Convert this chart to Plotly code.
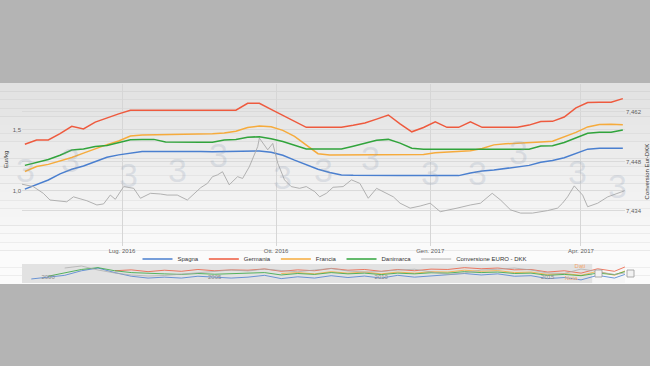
import plotly.graph_objects as go
import pandas as pd

W, H = 650, 366

# ---------------- data ----------------
week_dates = pd.date_range("2016-05-04", periods=52, freq="7D")

spagna = [1.015, 1.055, 1.09, 1.14, 1.178, 1.205, 1.24, 1.276, 1.296, 1.31,
          1.324, 1.324, 1.325, 1.325, 1.324, 1.323, 1.322, 1.322, 1.322, 1.327,
          1.328, 1.318, 1.293, 1.253, 1.213, 1.178, 1.152, 1.131, 1.128, 1.126,
          1.126, 1.126, 1.126, 1.126, 1.126, 1.126, 1.126, 1.126, 1.147, 1.163,
          1.172, 1.183, 1.194, 1.21, 1.236, 1.25, 1.272, 1.306, 1.343, 1.35,
          1.35, 1.35]
germania = [1.383, 1.418, 1.418, 1.470, 1.530, 1.508, 1.565, 1.600, 1.632, 1.662,
            1.662, 1.662, 1.662, 1.662, 1.662, 1.662, 1.662, 1.662, 1.662, 1.719,
            1.719, 1.669, 1.620, 1.570, 1.522, 1.522, 1.522, 1.522, 1.538, 1.557,
            1.589, 1.623, 1.550, 1.485, 1.520, 1.566, 1.522, 1.522, 1.566, 1.522,
            1.522, 1.522, 1.522, 1.540, 1.570, 1.571, 1.606, 1.681, 1.725, 1.727,
            1.727, 1.757]
francia = [1.16, 1.20, 1.218, 1.245, 1.275, 1.31, 1.348, 1.38, 1.41, 1.45,
           1.459, 1.46, 1.461, 1.462, 1.463, 1.465, 1.47, 1.476, 1.49, 1.52,
           1.532, 1.526, 1.497, 1.448, 1.376, 1.306, 1.295, 1.295, 1.295, 1.295,
           1.295, 1.295, 1.295, 1.295, 1.299, 1.313, 1.318, 1.324, 1.33, 1.348,
           1.378, 1.387, 1.394, 1.398, 1.402, 1.408, 1.442, 1.48, 1.525, 1.544,
           1.547, 1.542]
danimarca = [1.21, 1.235, 1.258, 1.293, 1.336, 1.344, 1.365, 1.373, 1.394, 1.42,
             1.423, 1.423, 1.402, 1.399, 1.399, 1.399, 1.399, 1.418, 1.423, 1.44,
             1.445, 1.429, 1.405, 1.375, 1.345, 1.344, 1.344, 1.344, 1.367, 1.393,
             1.416, 1.423, 1.392, 1.35, 1.342, 1.342, 1.342, 1.342, 1.342, 1.342,
             1.342, 1.342, 1.342, 1.342, 1.368, 1.371, 1.398, 1.435, 1.473, 1.481,
             1.481, 1.50]

dkk_dates = ["2016-05-02", "2016-05-09", "2016-05-15", "2016-05-19", "2016-05-25",
             "2016-05-29", "2016-06-02", "2016-06-06", "2016-06-10", "2016-06-16",
             "2016-06-20", "2016-06-24", "2016-06-27", "2016-07-02", "2016-07-08",
             "2016-07-12", "2016-07-18", "2016-07-24", "2016-07-28", "2016-08-03",
             "2016-08-09", "2016-08-17", "2016-08-21", "2016-08-24", "2016-08-27",
             "2016-08-30", "2016-09-03", "2016-09-08", "2016-09-11", "2016-09-15",
             "2016-09-20", "2016-09-21", "2016-09-26", "2016-09-29", "2016-10-02",
             "2016-10-06", "2016-10-10", "2016-10-15", "2016-10-19", "2016-10-24",
             "2016-10-27", "2016-10-31", "2016-11-04", "2016-11-10", "2016-11-15",
             "2016-11-20", "2016-11-25", "2016-11-30", "2016-12-06", "2016-12-10",
             "2016-12-14", "2016-12-20", "2016-12-26", "2017-01-01", "2017-01-07",
             "2017-01-13", "2017-01-17", "2017-01-25", "2017-01-31", "2017-02-07",
             "2017-02-12", "2017-02-18", "2017-02-24", "2017-03-03", "2017-03-12",
             "2017-03-18", "2017-03-21", "2017-03-24", "2017-03-28", "2017-03-31",
             "2017-04-02", "2017-04-05", "2017-04-11", "2017-04-17", "2017-04-23",
             "2017-04-27"]
dkk_values = [7.4416, 7.4409, 7.4390, 7.4371, 7.4368, 7.4366, 7.4380, 7.4374, 7.4369, 7.4357,
              7.4360, 7.4385, 7.4373, 7.4409, 7.4404, 7.4376, 7.4390, 7.4388, 7.4385, 7.4385,
              7.4371, 7.4406, 7.4418, 7.4437, 7.4442, 7.4451, 7.4414, 7.4437, 7.4432, 7.4465,
              7.4522, 7.4546, 7.4513, 7.4531, 7.4475, 7.4428, 7.4409, 7.4404, 7.4409, 7.4395,
              7.4380, 7.4390, 7.4407, 7.4409, 7.4428, 7.4418, 7.4376, 7.4404, 7.4390, 7.4380,
              7.4362, 7.4348, 7.4354, 7.4362, 7.4338, 7.4343, 7.4348, 7.4357, 7.4362, 7.4390,
              7.4371, 7.4343, 7.4334, 7.4334, 7.4341, 7.4348, 7.4362, 7.4380, 7.4411, 7.4395,
              7.4385, 7.4352, 7.4362, 7.4380, 7.4390, 7.4397]

# navigator (long history, rough reading of the miniature)
nav_dates = ["1999-07-01", "2000-01-01", "2000-07-01", "2001-01-01", "2001-07-01",
             "2002-01-01", "2002-07-01", "2003-01-01", "2003-07-01", "2004-01-01",
             "2004-07-01", "2005-01-01", "2005-07-01", "2006-01-01", "2006-07-01",
             "2007-01-01", "2007-07-01", "2008-01-01", "2008-07-01", "2009-01-01",
             "2009-07-01", "2010-01-01", "2010-07-01", "2011-01-01", "2011-07-01",
             "2012-01-01", "2012-07-01", "2013-01-01", "2013-07-01", "2014-01-01",
             "2014-07-01", "2015-01-01", "2015-07-01", "2016-01-01", "2016-07-01",
             "2017-01-01", "2017-04-26"]
nav_spagna = [1.10, 1.20, 1.30, 1.55, 1.70, 1.45, 1.25, 1.15, 1.20, 1.15,
              1.25, 1.20, 1.15, 1.20, 1.30, 1.12, 1.22, 1.15, 1.28, 1.18,
              1.26, 1.15, 1.30, 1.20, 1.26, 1.30, 1.40, 1.32, 1.38, 1.25,
              1.28, 1.12, 1.18, 1.05, 1.30, 1.15, 1.35]
nav_germania = [None, None, None, None, None, 1.55, 1.60, 1.50, 1.58, 1.52,
                1.62, 1.55, 1.60, 1.58, 1.65, 1.52, 1.60, 1.55, 1.68, 1.58,
                1.62, 1.52, 1.62, 1.55, 1.64, 1.62, 1.72, 1.66, 1.70, 1.60,
                1.62, 1.48, 1.55, 1.42, 1.66, 1.52, 1.757]
nav_francia = [None, None, None, None, None, None, None, None, None, None,
               None, None, None, None, None, 1.40, 1.45, 1.38, 1.50, 1.42,
               1.48, 1.38, 1.48, 1.42, 1.50, 1.48, 1.58, 1.52, 1.56, 1.45,
               1.48, 1.35, 1.40, 1.30, 1.52, 1.30, 1.542]
nav_danimarca = [None, 1.25, 1.45, 1.62, 1.72, 1.55, 1.45, 1.40, 1.38, 1.35,
                 1.40, 1.36, 1.38, 1.40, 1.45, 1.32, 1.40, 1.35, 1.45, 1.38,
                 1.42, 1.34, 1.42, 1.38, 1.44, 1.42, 1.50, 1.45, 1.48, 1.40,
                 1.42, 1.30, 1.35, 1.28, 1.42, 1.34, 1.50]
nav_dkk = [None, None, 7.460, 7.468, 7.452, 7.440, 7.432, 7.428, 7.430, 7.436,
           7.440, 7.445, 7.452, 7.448, 7.456, 7.450, 7.445, 7.452, 7.458, 7.448,
           7.444, 7.446, 7.452, 7.455, 7.445, 7.434, 7.440, 7.452, 7.455, 7.460,
           7.452, 7.440, 7.438, 7.456, 7.446, 7.434, 7.440]

# navigator flags (small orange notes)
flag_dates = ["2015-12-20", "2015-09-15"]
flag_levels = [1.81, 1.10]
flag_texts = ["Dati", "Nota"]

series_names = ["Spagna", "Germania", "Francia", "Danimarca"]
series_colors = ["#4a7fcf", "#ee5a3e", "#f6ab3c", "#31a43c"]
dkk_name = "Conversione EURO - DKK"
dkk_color = "#a9a9a9"

x_tick_vals = ["2016-07-01", "2016-10-01", "2017-01-01", "2017-04-01"]
x_tick_text = ["Lug. 2016", "Ott. 2016", "Gen. 2017", "Apr. 2017"]
left_ticks = [1.0, 1.5]
right_ticks = [7.434, 7.448, 7.462]
nav_tick_vals = ["2000-01-01", "2005-01-01", "2010-01-01", "2015-01-01"]
nav_tick_text = ["2000", "2005", "2010", "2015"]

# ---------------- helpers for layout positions (pixels -> paper) ----------------
def fx(px):
    return px / W


def fy(py):
    return 1 - py / H


fig = go.Figure()

main_values = [spagna, germania, francia, danimarca]
for name, vals, col in zip(series_names, main_values, series_colors):
    fig.add_trace(go.Scatter(x=week_dates, y=vals, name=name, mode="lines",
                             line=dict(color=col, width=1.5), xaxis="x", yaxis="y"))
fig.add_trace(go.Scatter(x=dkk_dates, y=dkk_values, name=dkk_name, mode="lines",
                         line=dict(color=dkk_color, width=0.9), xaxis="x", yaxis="y2"))

# navigator traces
nav_values = [nav_spagna, nav_germania, nav_francia, nav_danimarca]
for vals, col in zip(nav_values, series_colors):
    fig.add_trace(go.Scatter(x=nav_dates, y=vals, mode="lines", showlegend=False,
                             hoverinfo="skip", line=dict(color=col, width=0.8),
                             xaxis="x2", yaxis="y3"))
fig.add_trace(go.Scatter(x=nav_dates, y=nav_dkk, mode="lines", showlegend=False,
                         hoverinfo="skip", line=dict(color=dkk_color, width=0.7),
                         xaxis="x2", yaxis="y4"))
fig.add_trace(go.Scatter(x=flag_dates, y=flag_levels, text=flag_texts, mode="text",
                         showlegend=False, hoverinfo="skip",
                         textfont=dict(size=6, color="#f2a66a"), xaxis="x2", yaxis="y3",
                         cliponaxis=False))

shapes = []
# chart background with soft vertical gradient
top_px, bot_px = 83, 284
n = 24
for i in range(n):
    y0 = top_px + (bot_px - top_px) * i / n
    y1 = top_px + (bot_px - top_px) * (i + 1) / n
    g = int(226 + (251 - 226) * min(1.0, i / (n * 0.8)))
    shapes.append(dict(type="rect", xref="paper", yref="paper", x0=0, x1=1,
                       y0=fy(y1), y1=fy(y0), fillcolor=f"rgb({g},{g},{g})",
                       line=dict(width=0), layer="below"))
# navigator band (masked) and selected window
shapes.append(dict(type="rect", xref="x2 domain", yref="y3 domain", x0=0, x1=1, y0=0, y1=1,
                   fillcolor="#e2e2e2", line=dict(width=0), layer="below"))
shapes.append(dict(type="rect", xref="x2", yref="y3 domain",
                   x0="2016-05-02", x1="2017-04-27", y0=0, y1=1,
                   fillcolor="#f6f6f6", line=dict(width=0), layer="below"))
# navigator handles
for cx in (598.5, 630.5):
    shapes.append(dict(type="rect", xref="paper", yref="paper",
                       x0=fx(cx - 3.5), x1=fx(cx + 3.5), y0=fy(277), y1=fy(270),
                       fillcolor="#f2f2f2", line=dict(color="#999999", width=0.8),
                       layer="above"))

annotations = []
# watermark logos
for (px, py) in [(25, 170), (70, 160), (128, 175), (177, 170), (218, 155), (282, 177),
                 (323, 170), (370, 158), (430, 173), (477, 173), (518, 152), (577, 172),
                 (617, 186)]:
    annotations.append(dict(text="3", x=fx(px), y=fy(py), xref="paper", yref="paper",
                            showarrow=False, xanchor="center", yanchor="middle",
                            font=dict(size=34, color="rgba(140,155,178,0.22)",
                                      family="Liberation Sans, Arial, sans-serif")))
annotations.append(dict(text="Eur/kg", x=fx(6), y=fy(160), xref="paper", yref="paper",
                        showarrow=False, textangle=-90, xanchor="center", yanchor="middle",
                        font=dict(size=6, color="#333333")))
annotations.append(dict(text="Conversion Eur-DKK", x=fx(646.5), y=fy(172), xref="paper",
                        yref="paper", showarrow=False, textangle=-90, xanchor="center",
                        yanchor="middle", font=dict(size=6, color="#333333")))

tickfont = dict(size=6, color="#606060", family="Liberation Sans, Arial, sans-serif")

fig.update_layout(
    width=W, height=H,
    margin=dict(l=0, r=0, t=0, b=0),
    paper_bgcolor="#b4b4b4",
    plot_bgcolor="rgba(0,0,0,0)",
    separators=",.",
    hovermode=False,
    font=dict(family="Liberation Sans, Arial, sans-serif", size=6, color="#555555"),
    showlegend=True,
    legend=dict(orientation="h", x=fx(335), xanchor="center", y=fy(259), yanchor="middle",
                font=dict(size=6, color="#333333"), bgcolor="rgba(0,0,0,0)",
                itemwidth=30, tracegroupgap=0),
    xaxis=dict(domain=[fx(22), fx(625)], range=["2016-05-02 07:00", "2017-04-27 07:00"],
               type="date", tickvals=x_tick_vals, ticktext=x_tick_text,
               showgrid=True, gridcolor="#d6d6d6", gridwidth=1, zeroline=False,
               showline=False, ticks="", tickfont=tickfont, anchor="y", automargin=False),
    yaxis=dict(domain=[fy(246), fy(84)], range=[0.549, 1.877], tickvals=left_ticks,
               tickformat=".1f", showgrid=True, gridcolor="#dadada", zeroline=False,
               showline=False, ticks="", tickfont=tickfont, anchor="x", automargin=False),
    yaxis2=dict(overlaying="y", side="right", range=[7.4241, 7.4699], tickvals=right_ticks,
                tickformat=".3f", showgrid=True, gridcolor="#dadada", zeroline=False,
                showline=False, ticks="", tickfont=tickfont, anchor="x", automargin=False),
    xaxis2=dict(domain=[fx(22), fx(625)], range=["1999-03-21", "2017-04-27"], type="date",
                tickvals=nav_tick_vals, ticktext=nav_tick_text, ticklabelposition="inside",
                showgrid=False, zeroline=False, showline=False, ticks="",
                tickfont=dict(size=6, color="#8a8a8a"), anchor="y3", automargin=False),
    yaxis3=dict(domain=[fy(283), fy(264)], range=[0.88, 1.92], visible=False, anchor="x2"),
    yaxis4=dict(overlaying="y3", range=[7.40, 7.476], visible=False, anchor="x2"),
    shapes=shapes,
    annotations=annotations,
)

fig.write_html("out.html", config={"displayModeBar": False, "staticPlot": True},
               post_script="document.body.style.margin='0';document.body.style.overflow='hidden';")
